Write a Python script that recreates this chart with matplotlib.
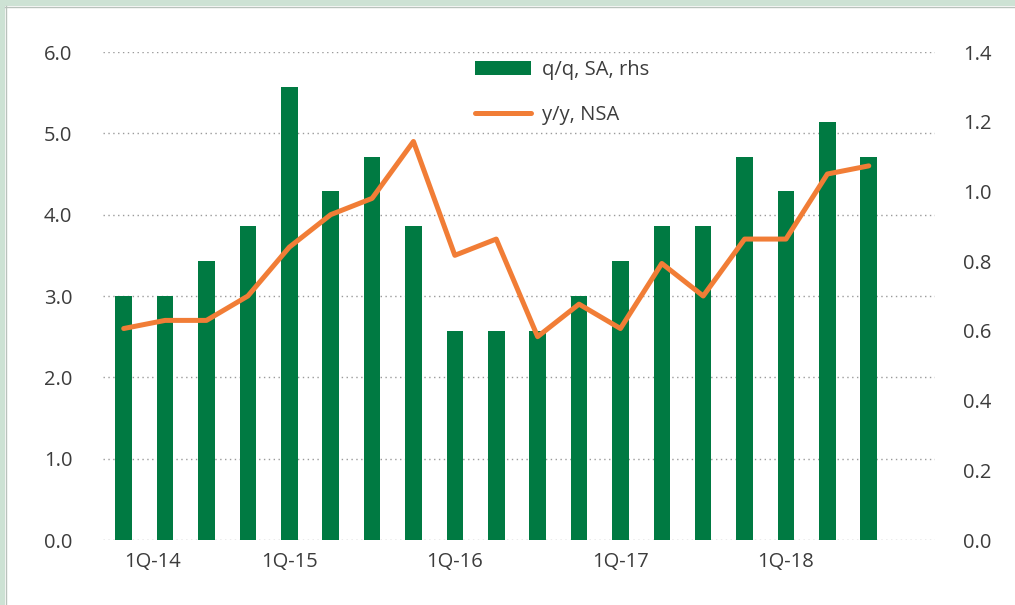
import matplotlib
matplotlib.use('Agg')
import matplotlib.pyplot as plt
import numpy as np
from matplotlib.patches import Rectangle
from matplotlib.lines import Line2D

quarters = ['1Q-14', '2Q-14', '3Q-14', '4Q-14', '1Q-15', '2Q-15', '3Q-15', '4Q-15',
            '1Q-16', '2Q-16', '3Q-16', '4Q-16', '1Q-17', '2Q-17', '3Q-17', '4Q-17',
            '1Q-18', '2Q-18', '3Q-18']
qq_sa = [0.7, 0.7, 0.8, 0.9, 1.3, 1.0, 1.1, 0.9, 0.6, 0.6, 0.6, 0.7, 0.8, 0.9, 0.9,
         1.1, 1.0, 1.2, 1.1]
yy_nsa = [2.6, 2.7, 2.7, 3.0, 3.6, 4.0, 4.2, 4.9, 3.5, 3.7, 2.5, 2.9, 2.6, 3.4, 3.0,
          3.7, 3.7, 4.5, 4.6]
left_ticks = [0, 1, 2, 3, 4, 5, 6]
right_ticks = [0, 0.2, 0.4, 0.6, 0.8, 1.0, 1.2, 1.4]
shown_labels = ['1Q-14', '1Q-15', '1Q-16', '1Q-17', '1Q-18']

GREEN = '#007a42'
ORANGE = '#f17d36'
TEXT = '#3c3c3c'
plt.rcParams['font.family'] = ['Open Sans', 'DejaVu Sans']

fig = plt.figure(figsize=(10.15, 6.05), dpi=100)
fig.patch.set_facecolor('white')
# light green frame strips at top and left
fig.patches.append(Rectangle((0, 1 - 6 / 605), 1, 6 / 605, transform=fig.transFigure,
                             facecolor='#cde2d4', edgecolor='none', zorder=0))
fig.patches.append(Rectangle((0, 0), 5 / 1015, 1, transform=fig.transFigure,
                             facecolor='#cde2d4', edgecolor='none', zorder=0))
fig.lines.append(Line2D([5 / 1015, 1], [1 - 6.5 / 605] * 2, transform=fig.transFigure,
                        color='#b9c2bc', lw=1))
fig.lines.append(Line2D([5.5 / 1015] * 2, [0, 1 - 6 / 605], transform=fig.transFigure,
                        color='#b9c2bc', lw=1))

ax = fig.add_axes([103 / 1015, 65 / 605, 832 / 1015, 488 / 605])
ax2 = ax.twinx()
x = np.arange(len(quarters))

ax.set_ylim(0, 6)
ax2.set_ylim(0, 1.4)
ax.set_xlim(-0.5, 19.6)

ax.set_yticks(left_ticks)
ax.set_yticklabels([f'{v:.1f}' for v in left_ticks])
ax2.set_yticks(right_ticks)
ax2.set_yticklabels([f'{v:.1f}' for v in right_ticks])
ax.yaxis.grid(True, linestyle=(0, (1, 2.5)), color='#9a9a9a', lw=1)

bars = ax2.bar(x, qq_sa, width=0.4, color=GREEN, zorder=2, label='q/q, SA, rhs')
line, = ax2.plot(x, yy_nsa, color=ORANGE, lw=3.6, solid_capstyle='round',
                 transform=ax.transData, zorder=3, label='y/y, NSA')
ax2.set_xlim(-0.5, 19.6)

ax.set_xticks([quarters.index(q) for q in shown_labels])
ax.set_xticklabels(shown_labels)
ax.get_xticklabels()[0].set_horizontalalignment('left')

for a in (ax, ax2):
    for s in a.spines.values():
        s.set_visible(False)
    a.tick_params(length=0, labelsize=14.5, colors=TEXT)
ax.tick_params(axis='y', pad=22)
ax2.tick_params(axis='y', pad=20)
ax.tick_params(axis='x', pad=9)

leg = ax2.legend([bars, line], ['q/q, SA, rhs', 'y/y, NSA'], loc='upper left',
                 bbox_to_anchor=(457 / 1015, 1 - 42 / 605), bbox_transform=fig.transFigure,
                 frameon=False, fontsize=14.5, handlelength=2.75, handleheight=0.7,
                 labelspacing=1.25, handletextpad=0.55)
for t in leg.get_texts():
    t.set_color(TEXT)

fig.savefig('out.png', dpi=100)
